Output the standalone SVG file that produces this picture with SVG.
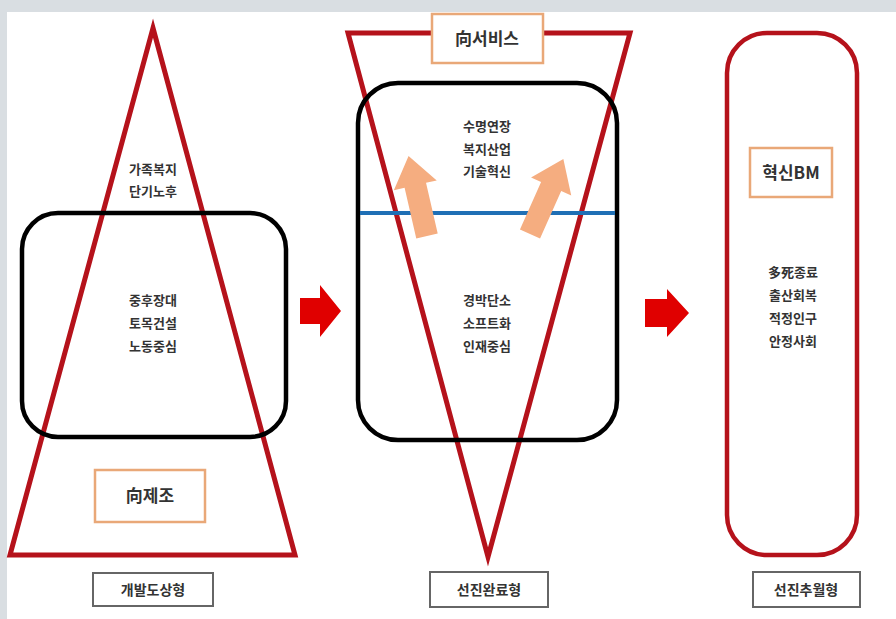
<svg xmlns="http://www.w3.org/2000/svg" width="896" height="619" viewBox="0 0 896 619">
<style>
.red{fill:none;stroke:#b5121b;stroke-width:5;stroke-linejoin:miter}
.blk{fill:none;stroke:#000;stroke-width:4.5}
.t{font-family:"Noto Sans CJK KR","Noto Sans",sans-serif;font-size:13px;font-weight:bold;fill:#333;text-anchor:middle}
.lb{font-family:"Noto Sans CJK KR","Noto Sans",sans-serif;font-size:17px;font-weight:bold;fill:#333;text-anchor:middle}
.ob{fill:#fff;stroke:#e9a878;stroke-width:2.5}
.gb{fill:#fff;stroke:#666;stroke-width:2}
.ra{fill:#e00000}
.oa{fill:#f5ad80}
</style>
<defs>
<path id="up" d="M-11,0 L-11,-52 L-22,-52 L0,-82 L22,-52 L11,-52 L11,0 Z"/>
</defs>
<rect width="896" height="619" fill="#d9dee2"/>
<rect x="7" y="12" width="889" height="607" fill="#fff"/>
<g id="connectors">
<path class="ra" d="M300,298 H320 V285 L341,311 L320,337 V324 H300 Z"/>
<path class="ra" d="M645,299 H667 V289 L689,313 L667,337 V327 H645 Z"/>
</g>
<g id="dev">
<polygon class="red" points="153,28 295,555 10,555"/>
<rect class="blk" x="22" y="213" width="264" height="224" rx="36"/>
<text class="t" x="153" y="174">가족복지</text>
<text class="t" x="153" y="196">단기노후</text>
<text class="t" x="153" y="305">중후장대</text>
<text class="t" x="153" y="328">토목건설</text>
<text class="t" x="153" y="351">노동중심</text>
</g>
<g id="mfg">
<rect class="ob" x="95" y="470" width="110" height="52"/>
<text class="lb" x="150" y="502">向제조</text>
</g>
<g id="label1">
<rect class="gb" x="93" y="573" width="120" height="33"/>
<text class="t" x="153" y="595" style="font-size:14px">개발도상형</text>
</g>
<g id="adv">
<polygon class="red" points="348,33 630,33 488,557"/>
<rect class="blk" x="358" y="83" width="259" height="357" rx="40"/>
<line x1="360" y1="213" x2="615" y2="213" stroke="#1f6fb5" stroke-width="4"/>
<use href="#up" class="oa" transform="translate(427,236) rotate(-13)"/>
<use href="#up" class="oa" transform="translate(530,234) rotate(24)"/>
<text class="t" x="487" y="131">수명연장</text>
<text class="t" x="487" y="154">복지산업</text>
<text class="t" x="487" y="176">기술혁신</text>
<text class="t" x="487" y="305">경박단소</text>
<text class="t" x="487" y="328">소프트화</text>
<text class="t" x="487" y="351">인재중심</text>
</g>
<g id="svc">
<rect class="ob" x="432" y="14" width="111" height="49"/>
<text class="lb" x="487" y="45">向서비스</text>
</g>
<g id="label2">
<rect class="gb" x="430" y="572" width="118" height="35"/>
<text class="t" x="489" y="595" style="font-size:14px">선진완료형</text>
</g>
<g id="lead">
<rect x="727" y="33" width="130" height="522" rx="40" fill="none" stroke="#b5121b" stroke-width="4.5"/>
<text class="t" x="793" y="277">多死종료</text>
<text class="t" x="793" y="300">출산회복</text>
<text class="t" x="793" y="323">적정인구</text>
<text class="t" x="793" y="346">안정사회</text>
</g>
<g id="bm">
<rect class="ob" x="750" y="148" width="82" height="49"/>
<text class="lb" x="791" y="179">혁신BM</text>
</g>
<g id="label3">
<rect class="gb" x="753" y="572" width="107" height="35"/>
<text class="t" x="806" y="595" style="font-size:14px">선진추월형</text>
</g>
</svg>
